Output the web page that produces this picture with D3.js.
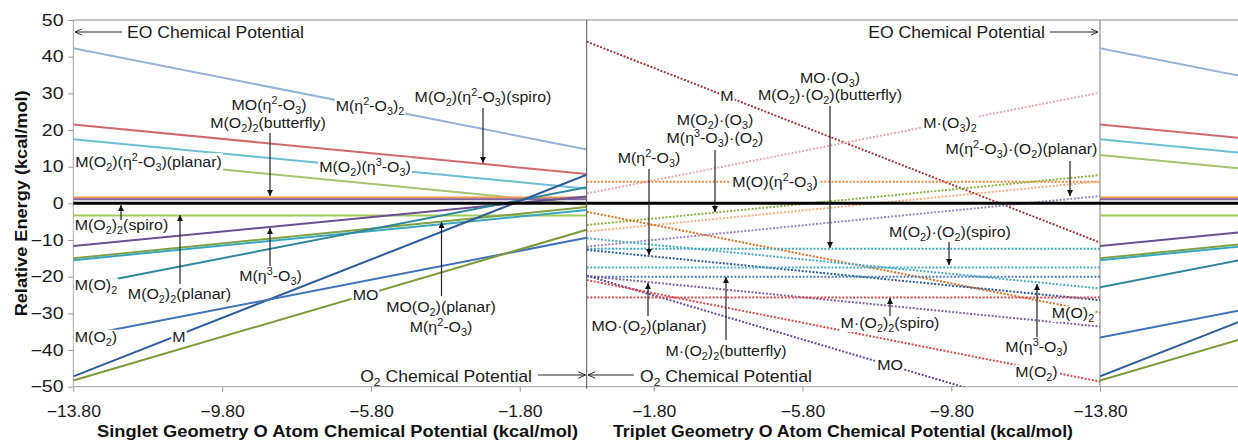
<!DOCTYPE html>
<html>
<head>
<meta charset="utf-8">
<script src="https://cdn.jsdelivr.net/npm/d3@7"></script>
<style>
  body { margin: 0; background: white; }
</style>
</head>
<body>
<script>
// ---- data (energies in kcal/mol) ----

// singlet geometry, solid lines: energy at mu = -13.8 and at mu = 0
let singletSpecies = ["M(η2-O3)2", "M(O2)(η2-O3)(spiro)", "M(O2)(η3-O3)", "M(O2)(η2-O3)(planar)",
  "MO(η2-O3)", "M(O2)2(butterfly)", "M(O2)2(planar)", "M(η3-O3)", "MO(O2)(planar)",
  "M(η2-O3)", "M(O)2", "M", "M(O2)", "MO"];
let singletAtMin  = [42.3, 21.5, 17.5, 13.2, 1.6, 1.1, -3.3, -11.6, -15.0, -15.5, -22.9, -47.2, -36.6, -48.3];
let singletAtZero = [14.7,  8.0,  4.0, -0.4, 1.6, 1.1, -3.3,   1.9,  -1.0,  -1.8,   4.4,   7.8,  -9.4,  -7.2];

// triplet geometry, dotted lines: energy at mu = 0 and at mu = -13.8
let tripletSpecies = ["M", "M·(O3)2", "M(O)(η2-O3)", "M(O2)·(O3)", "M(η3-O3)·(O2)", "M(O)2",
  "M(η2-O3)·(O2)(planar)", "M(η3-O3)", "M(O2)·(O2)(butterfly)", "M(η2-O3)",
  "M(O2)·(O2)(spiro)", "M·(O2)2(butterfly)", "MO·(O2)(planar)", "MO", "M(O2)", "M·(O2)2(spiro)"];
let tripletAtZero = [44.1,  2.7, 5.9, -5.9, -7.7,  -2.3, -11.8,  -9.5, -12.4, -12.7, -17.5, -20.0, -19.8, -19.7, -20.9, -25.7];
let tripletAtMin  = [-10.7, 30.2, 5.9,  7.7,  6.0, -29.8,   2.0, -23.2, -12.4, -26.4, -17.5, -20.0, -33.6, -61.1, -48.6, -25.7];

let singletTicks = [-13.8, -9.8, -5.8, -1.8];
let tripletTicks = [-1.8, -5.8, -9.8, -13.8];
let energyTicks = [-50, -40, -30, -20, -10, 0, 10, 20, 30, 40, 50];

// ---- styles ----
let singletColors = ["#95B3D7", "#D06A6A", "#6CBED6", "#A4C46F", "#F79646", "#8064A2", "#9ECB5A",
  "#6B4F94", "#7FA043", "#3AA6C0", "#31859C", "#2E5B9A", "#3F72B8", "#7A9A3A"];
let tripletColors = ["#A2393A", "#EBA7B0", "#F08A3E", "#8DB33F", "#FBAE7E", "#E07020", "#9A87C4",
  "#4BACC6", "#40A9C8", "#2F5C9E", "#4BB0CC", "#4F81BD", "#7E62A8", "#6A48A0", "#E04848", "#E04848"];

let W = 1238, H = 442;
let font = "Arial, 'Liberation Sans', sans-serif";

let svg = d3.select("body").append("svg")
  .attr("width", W)
  .attr("height", H)
  .style("font-family", font);

let y = d3.scaleLinear().domain([-50, 50]).range([386.7, 20]);
let xL = d3.scaleLinear().domain([-13.8, 0]).range([73.3, 586.7]);
let xR = d3.scaleLinear().domain([0, -13.8]).range([586.7, 1100]);
let xS = d3.scaleLinear().domain([-13.8, 0]).range([1100, 1613.4]); // singlet repeated past the right axis

let defs = svg.append("defs");
function clip(id, x0, x1) {
  defs.append("clipPath").attr("id", id).append("rect")
    .attr("x", x0).attr("y", y(50)).attr("width", x1 - x0).attr("height", y(-50) - y(50));
}
clip("clipL", xL(-13.8), xL(0));
clip("clipR", xR(0), xR(-13.8));
clip("clipS", xS(-13.8), W);

defs.append("marker").attr("id", "head")
  .attr("viewBox", "0 0 10 10").attr("refX", 10).attr("refY", 5)
  .attr("markerUnits", "userSpaceOnUse").attr("markerWidth", 6).attr("markerHeight", 6)
  .attr("orient", "auto")
  .append("path").attr("d", "M0,0 L10,5 L0,10 Z").attr("fill", "#111");
defs.append("marker").attr("id", "open")
  .attr("viewBox", "0 0 10 10").attr("refX", 10).attr("refY", 5)
  .attr("markerUnits", "userSpaceOnUse").attr("markerWidth", 8).attr("markerHeight", 8)
  .attr("orient", "auto")
  .append("path").attr("d", "M1,1 L10,5 L1,9").attr("fill", "none").attr("stroke", "#222").attr("stroke-width", 1.2);

let line = (xs) => d3.line().x(d => xs(d[0])).y(d => y(d[1]));

// frame
svg.append("line").attr("x1", xL(-13.8)).attr("x2", W).attr("y1", y(50)).attr("y2", y(50)).attr("stroke", "#888");
svg.append("line").attr("x1", xL(-13.8)).attr("x2", W).attr("y1", y(-50)).attr("y2", y(-50)).attr("stroke", "#A0A0A0");
svg.append("line").attr("x1", xL(-13.8)).attr("x2", xL(-13.8)).attr("y1", y(50)).attr("y2", y(-50)).attr("stroke", "#A6A6A6");
svg.append("line").attr("x1", xR(-13.8)).attr("x2", xR(-13.8)).attr("y1", y(50)).attr("y2", y(-50)).attr("stroke", "#A6A6A6").attr("stroke-width", 1.5);

// singlet lines (left panel and repeated strip)
[["clipL", xL], ["clipS", xS]].forEach(([id, xs]) => {
  svg.append("g").attr("clip-path", `url(#${id})`)
    .selectAll("path")
    .data(singletSpecies)
    .join("path")
      .attr("d", (d, i) => line(xs)([[-13.8, singletAtMin[i]], [0, singletAtZero[i]]]))
      .attr("fill", "none")
      .attr("stroke", (d, i) => singletColors[i])
      .attr("stroke-width", 2);
});

// triplet lines (right panel)
svg.append("g").attr("clip-path", "url(#clipR)")
  .selectAll("path")
  .data(tripletSpecies)
  .join("path")
    .attr("d", (d, i) => line(xR)([[0, tripletAtZero[i]], [-13.8, tripletAtMin[i]]]))
    .attr("fill", "none")
    .attr("stroke", (d, i) => tripletColors[i])
    .attr("stroke-width", 2)
    .attr("stroke-dasharray", "2,1.6");

// zero reference
svg.append("line").attr("x1", xL(-13.8)).attr("x2", W).attr("y1", y(0)).attr("y2", y(0))
  .attr("stroke", "black").attr("stroke-width", 3);

// separator
svg.append("line").attr("x1", xL(0)).attr("x2", xL(0)).attr("y1", y(50)).attr("y2", y(-50) + 2).attr("stroke", "#555");

// axes
function styleAxis(sx) {
  return function(g) {
    g.select(".domain").remove();
    g.attr("font-family", font).attr("font-size", 16);
    g.selectAll(".tick line").attr("stroke", "#999");
    g.selectAll(".tick text").attr("fill", "#1a1a1a")
      .attr("transform", `scale(${sx},1)`);
  };
}
svg.append("g").attr("transform", `translate(0,${y(-50)})`)
  .call(d3.axisBottom(xL).tickValues(singletTicks).tickFormat(d3.format(".2f")).tickSize(5).tickPadding(14))
  .call(styleAxis(1.1));
svg.append("g").attr("transform", `translate(0,${y(-50)})`)
  .call(d3.axisBottom(xR).tickValues(tripletTicks).tickFormat(d3.format(".2f")).tickSize(5).tickPadding(14))
  .call(styleAxis(1.1));
svg.append("g").attr("transform", `translate(${xL(-13.8)},0)`)
  .call(d3.axisLeft(y).tickValues(energyTicks).tickSize(5).tickPadding(3))
  .call(styleAxis(1.22));

// axis titles
svg.append("text").text("Relative Energy (kcal/mol)")
  .attr("transform", `translate(27,${y(0)}) rotate(-90)`)
  .attr("text-anchor", "middle").attr("font-weight", "bold").attr("font-size", 16)
  .attr("textLength", 226).attr("lengthAdjust", "spacingAndGlyphs").attr("fill", "#111");
svg.append("text").text("Singlet Geometry O Atom Chemical Potential (kcal/mol)")
  .attr("x", 97).attr("y", 436.5).attr("font-weight", "bold").attr("font-size", 16)
  .attr("textLength", 481).attr("lengthAdjust", "spacingAndGlyphs").attr("fill", "#111");
svg.append("text").text("Triplet Geometry O Atom Chemical Potential (kcal/mol)")
  .attr("x", 613).attr("y", 436.5).attr("font-weight", "bold").attr("font-size", 16)
  .attr("textLength", 460).attr("lengthAdjust", "spacingAndGlyphs").attr("fill", "#111");

// ---- annotations (pixel layout) ----
// text uses _n for subscript and ^n for superscript
function label(txt, x, yy, anchor, big) {
  let size = big ? 16 : 15.5, small = big ? 11 : 10.5, sx = big ? 1.1 : 1.03;
  let g = svg.append("g").attr("transform", `translate(${x},${yy}) scale(${sx},1)`);
  let t = g.append("text").attr("text-anchor", anchor || "middle")
    .attr("font-size", size).attr("fill", "#1a1a1a");
  let shift = 0;
  txt.split(/([_^]\d)/).forEach(p => {
    if (!p) return;
    let s = 0, fs = null, str = p;
    if (p[0] === "_") { s = 4; fs = small; str = p.slice(1); }
    else if (p[0] === "^") { s = -6; fs = small; str = p.slice(1); }
    let ts = t.append("tspan").text(str).attr("dy", s - shift);
    if (fs) ts.attr("font-size", fs);
    shift = s;
  });
  let b = t.node().getBBox();
  g.insert("rect", "text").attr("x", b.x - 1).attr("y", b.y + 2)
    .attr("width", b.width + 2).attr("height", b.height - 4).attr("fill", "white");
}
function arrow(x1, y1, x2, y2, m) {
  svg.append("line").attr("x1", x1).attr("y1", y1).attr("x2", x2).attr("y2", y2)
    .attr("stroke", "#222").attr("stroke-width", 1.2)
    .attr("marker-end", `url(#${m || "head"})`);
}

let labels = [
  ["EO Chemical Potential", 127, 38, "start", true],
  ["EO Chemical Potential", 1045, 38, "end", true],
  ["O_2 Chemical Potential", 532, 381.5, "end", true],
  ["O_2 Chemical Potential", 640, 381.5, "start", true],
  ["MO(η^2-O_3)", 269, 109.5],
  ["M(O_2)_2(butterfly)", 268, 128],
  ["M(η^2-O_3)_2", 370, 111],
  ["M(O_2)(η^2-O_3)(spiro)", 483, 102],
  ["M(O_2)(η^3-O_3)", 365, 171.5],
  ["M(O_2)(η^2-O_3)(planar)", 148.5, 167],
  ["M(O_2)_2(spiro)", 121.5, 230],
  ["M(η^3-O_3)", 270.5, 280.5],
  ["M(O_2)_2(planar)", 179.5, 299],
  ["M(O)_2", 96, 290],
  ["M(O_2)", 96, 341.5],
  ["M", 179, 341.5],
  ["MO", 365.5, 300],
  ["MO(O_2)(planar)", 441, 311.5],
  ["M(η^2-O_3)", 441, 331.5],
  ["M", 727, 101],
  ["MO·(O_3)", 830, 82.5],
  ["M(O_2)·(O_2)(butterfly)", 830, 100],
  ["M(O_2)·(O_3)", 715, 125],
  ["M(η^3-O_3)·(O_2)", 715, 143],
  ["M(η^2-O_3)", 649, 163],
  ["M(O)(η^2-O_3)", 775, 187],
  ["M·(O_3)_2", 950, 128],
  ["M(η^2-O_3)·(O_2)(planar)", 1021.5, 154],
  ["M(O_2)·(O_2)(spiro)", 950, 236.5],
  ["M·(O_2)_2(spiro)", 890, 328],
  ["M(O)_2", 1073, 318],
  ["M(η^3-O_3)", 1036.5, 351.5],
  ["MO", 890, 370],
  ["M(O_2)", 1036.5, 376.5],
  ["MO·(O_2)(planar)", 649, 331],
  ["M·(O_2)_2(butterfly)", 726, 356]
];
labels.forEach(d => label(d[0], d[1], d[2], d[3], d[4]));

let arrows = [
  [122, 32, 75, 32, "open"],
  [1050, 32, 1098, 32, "open"],
  [538, 375, 585.5, 375, "open"],
  [634, 375, 588, 375, "open"],
  [270, 133, 270, 196],
  [483, 108, 483, 163],
  [121, 220, 121, 205],
  [270, 266, 270, 228],
  [180, 284, 180, 215],
  [441.5, 296, 441.5, 222],
  [830, 106, 830, 248],
  [715, 150, 715, 212],
  [649, 169, 649, 255],
  [1070, 161, 1070, 196],
  [949, 242, 949, 265],
  [890, 316, 890, 298],
  [1037, 337, 1037, 284],
  [648, 316, 648, 283],
  [726, 340, 726, 277]
];
arrows.forEach(a => arrow(a[0], a[1], a[2], a[3], a[4]));
</script>
</body>
</html>
